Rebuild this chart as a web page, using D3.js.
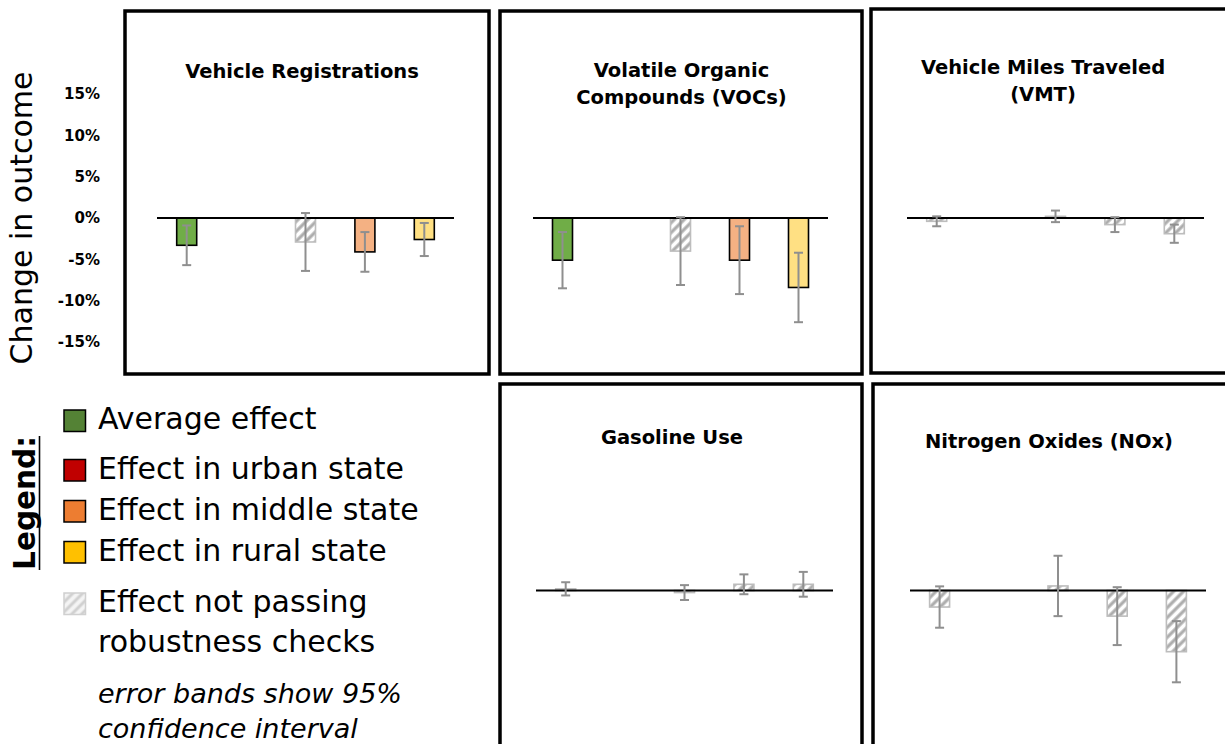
<!DOCTYPE html>
<html>
<head>
<meta charset="utf-8">
<script src="https://cdn.jsdelivr.net/npm/d3@7/dist/d3.min.js"></script>
<style>
  html, body { margin: 0; padding: 0; background: #fff; }
  svg { display: block; font-family: "DejaVu Sans", sans-serif; }
</style>
</head>
<body>
<svg id="chart" width="1225" height="744"></svg>
<script>
// ---- data -------------------------------------------------------------
// slot order inside every panel (second slot is an empty spacer)
const categories = ["Average", "gap", "Urban", "Middle", "Rural"];

const panelTitles = [
  ["Vehicle Registrations"],
  ["Volatile Organic", "Compounds (VOCs)"],
  ["Vehicle Miles Traveled", "(VMT)"],
  ["Gasoline Use"],
  ["Nitrogen Oxides (NOx)"]
];

// point estimates (% change in outcome)
const registrationsEffect = [-3.3, null, -2.9, -4.1, -2.6];
const vocEffect           = [-5.1, null, -4.0, -5.1, -8.4];
const vmtEffect           = [-0.4, null,  0.2, -0.8, -1.9];
const gasolineEffect      = [ 0.2, null, -0.25, 0.75, 0.75];
const noxEffect           = [-2.0, null,  0.55, -3.1, -7.4];

// half-width of the 95% confidence interval (% points)
const registrationsCI = [2.4, null, 3.5, 2.4, 2.0];
const vocCI           = [3.4, null, 4.1, 4.1, 4.2];
const vmtCI           = [0.6, null, 0.7, 0.9, 1.1];
const gasolineCI      = [0.8, null, 0.9, 1.2, 1.5];
const noxCI           = [2.5, null, 3.65, 3.5, 3.7];

// whether each effect passes robustness checks
const registrationsRobust = [true,  null, false, true,  true];
const vocRobust           = [true,  null, false, true,  true];
const vmtRobust           = [false, null, false, false, false];
const gasolineRobust      = [false, null, false, false, false];
const noxRobust           = [false, null, false, false, false];

const yTicks = [-15, -10, -5, 0, 5, 10, 15];

const legendLabels = [
  ["Average effect"],
  ["Effect in urban state"],
  ["Effect in middle state"],
  ["Effect in rural state"],
  ["Effect not passing", "robustness checks"]
];
const legendNote = ["error bands show 95%", "confidence interval"];

// ---- styling -------------------------------------------------------------
const barFill    = { Average: "#70ad47", Urban: "#e06666", Middle: "#f4b183", Rural: "#ffe083" };
const legendFill = ["#548235", "#c00000", "#ed7d31", "#ffc000"];
const hatchStroke = "#adadad";
const errColor = "#8f8f8f";

const series = [
  { effect: registrationsEffect, ci: registrationsCI, robust: registrationsRobust },
  { effect: vocEffect,           ci: vocCI,           robust: vocRobust },
  { effect: vmtEffect,           ci: vmtCI,           robust: vmtRobust },
  { effect: gasolineEffect,      ci: gasolineCI,      robust: gasolineRobust },
  { effect: noxEffect,           ci: noxCI,           robust: noxRobust }
];

// panel frames, baseline extents and title anchors
const layout = [
  { box: [125, 11, 364, 363],  line: [157, 454],  zero: 218,   title: [302, 77.5] },
  { box: [500, 11, 362, 363],  line: [533, 828],  zero: 218,   title: [681.5, 76.5] },
  { box: [871, 9, 380, 364],   line: [907, 1204], zero: 218,   title: [1043, 73.5] },
  { box: [500, 384, 362, 400], line: [536, 833],  zero: 590.5, title: [672, 444] },
  { box: [873, 384, 380, 400], line: [910, 1206], zero: 590.5, title: [1049, 448] }
];

const svg = d3.select("#chart");

// diagonal hatch for effects that fail robustness checks
const defs = svg.append("defs");
defs.append("pattern")
  .attr("id", "hatch")
  .attr("patternUnits", "userSpaceOnUse")
  .attr("width", 7).attr("height", 7)
  .attr("patternTransform", "rotate(45)")
  .call(p => {
    p.append("rect").attr("width", 7).attr("height", 7).attr("fill", "#fff");
    p.append("line").attr("x1", 2).attr("y1", 0).attr("x2", 2).attr("y2", 7)
      .attr("stroke", hatchStroke).attr("stroke-width", 3.2);
  });
defs.append("pattern")
  .attr("id", "hatchLight")
  .attr("patternUnits", "userSpaceOnUse")
  .attr("width", 7).attr("height", 7)
  .attr("patternTransform", "rotate(45)")
  .call(p => {
    p.append("rect").attr("width", 7).attr("height", 7).attr("fill", "#f4f4f4");
    p.append("line").attr("x1", 2).attr("y1", 0).attr("x2", 2).attr("y2", 7)
      .attr("stroke", "#d0d0d0").attr("stroke-width", 3);
  });

const pxPerPct = 8.27;

series.forEach((s, i) => {
  const L = layout[i];
  const g = svg.append("g");

  const x = d3.scaleBand().domain(categories).range(L.line).padding(0);
  const y = d3.scaleLinear().domain([-15, 15])
    .range([L.zero + 15 * pxPerPct, L.zero - 15 * pxPerPct]);
  const bw = 20;

  // frame
  g.append("rect")
    .attr("x", L.box[0]).attr("y", L.box[1])
    .attr("width", L.box[2]).attr("height", L.box[3])
    .attr("fill", "none").attr("stroke", "#000").attr("stroke-width", 3.5);

  // title
  const t = g.append("text")
    .attr("x", L.title[0]).attr("y", L.title[1])
    .attr("text-anchor", "middle")
    .attr("font-weight", "bold").attr("font-size", 19.5).attr("fill", "#000");
  panelTitles[i].forEach((line, k) => {
    t.append("tspan").attr("x", L.title[0]).attr("dy", k === 0 ? 0 : 27).text(line);
  });

  const rows = categories.map((c, k) => ({
    cat: c, v: s.effect[k], ci: s.ci[k], robust: s.robust[k]
  })).filter(d => d.v !== null);

  // bars
  g.selectAll("rect.bar").data(rows).join("rect")
    .attr("class", "bar")
    .attr("x", d => x(d.cat) + x.bandwidth() / 2 - bw / 2)
    .attr("width", bw)
    .attr("y", d => Math.min(y(d.v), y(0)))
    .attr("height", d => Math.abs(y(d.v) - y(0)))
    .attr("fill", d => d.robust ? barFill[d.cat] : "url(#hatch)")
    .attr("stroke", d => d.robust ? "#000" : "#bdbdbd")
    .attr("stroke-width", 1.6);

  // zero baseline
  g.append("line")
    .attr("x1", L.line[0]).attr("x2", L.line[1])
    .attr("y1", y(0)).attr("y2", y(0))
    .attr("stroke", "#000").attr("stroke-width", 1.8);

  // 95% confidence interval whiskers
  const eb = g.selectAll("g.err").data(rows).join("g").attr("class", "err")
    .attr("stroke", errColor).attr("stroke-width", 2);
  const cx = d => x(d.cat) + x.bandwidth() / 2;
  eb.append("line")
    .attr("x1", cx).attr("x2", cx)
    .attr("y1", d => y(d.v + d.ci)).attr("y2", d => y(d.v - d.ci));
  eb.append("line")
    .attr("x1", d => cx(d) - 4.5).attr("x2", d => cx(d) + 4.5)
    .attr("y1", d => y(d.v + d.ci)).attr("y2", d => y(d.v + d.ci));
  eb.append("line")
    .attr("x1", d => cx(d) - 4.5).attr("x2", d => cx(d) + 4.5)
    .attr("y1", d => y(d.v - d.ci)).attr("y2", d => y(d.v - d.ci));

  // shared y axis on the first panel only
  if (i === 0) {
    const ax = svg.append("g")
      .attr("transform", "translate(101,0)")
      .call(d3.axisLeft(y).tickValues(yTicks).tickSize(0).tickPadding(1)
        .tickFormat(d => d + "%"));
    ax.select(".domain").remove();
    ax.selectAll("text")
      .attr("font-family", "DejaVu Sans, sans-serif")
      .attr("font-weight", "bold").attr("font-size", 15).attr("fill", "#000");
  }
});

// y axis title
svg.append("text")
  .attr("transform", "translate(32,218) rotate(-90)")
  .attr("text-anchor", "middle")
  .attr("font-size", 30).attr("fill", "#000")
  .text("Change in outcome");

// legend
const leg = svg.append("g");
leg.append("text")
  .attr("transform", "translate(35,503) rotate(-90)")
  .attr("text-anchor", "middle")
  .attr("font-size", 29.5).attr("font-weight", "bold").attr("fill", "#000")
  .text("Legend:");
leg.append("line")
  .attr("x1", 39.5).attr("x2", 39.5).attr("y1", 436).attr("y2", 570)
  .attr("stroke", "#000").attr("stroke-width", 1.6);

const legendRowY = [410, 459.5, 500.5, 541.5, 593];
legendLabels.forEach((lab, k) => {
  const yy = legendRowY[k];
  leg.append("rect")
    .attr("x", 64).attr("y", yy).attr("width", 21.5).attr("height", 21.5)
    .attr("fill", k < 4 ? legendFill[k] : "url(#hatchLight)")
    .attr("stroke", k < 4 ? "#000" : "#d0d0d0").attr("stroke-width", 1.5);
  lab.forEach((line, j) => {
    leg.append("text")
      .attr("x", 98).attr("y", yy + 19 + j * 40)
      .attr("font-size", 30).attr("fill", "#000")
      .text(line);
  });
});
legendNote.forEach((line, j) => {
  leg.append("text")
    .attr("x", 98).attr("y", 703 + j * 35)
    .attr("font-size", 27).attr("font-style", "italic").attr("fill", "#000")
    .text(line);
});
</script>
</body>
</html>
